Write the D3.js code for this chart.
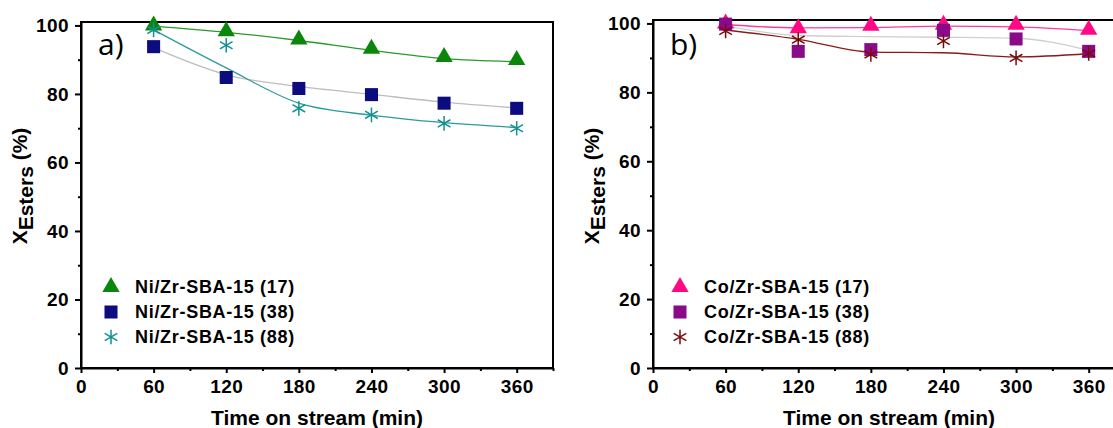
<!DOCTYPE html>
<html>
<head>
<meta charset="utf-8">
<script src="https://cdn.jsdelivr.net/npm/d3@7"></script>
<style>
  body { margin: 0; background: #fff; }
  svg { display: block; }
  .tick-label { font-family: "Liberation Sans", Arial, sans-serif; font-weight: bold; font-size: 19px; letter-spacing: 0.4px; }
</style>
</head>
<body>
<div id="chart"></div>
<script>
// sampling times (min)
const times = [60, 120, 180, 240, 300, 360];
const xTicks = [0, 60, 120, 180, 240, 300, 360];
const yTicks = [0, 20, 40, 60, 80, 100];

// panel a) measured points
const ni17 = [100, 98.3, 95.9, 93.2, 90.8, 89.9];
const ni38 = [93.8, 84.8, 81.6, 79.8, 77.3, 75.8];
const ni88 = [98.7, 94.2, 75.8, 73.9, 71.4, 70.0];
// panel a) trend lines
const ni17Line = [99.8, 98.0, 95.6, 92.7, 90.3, 89.4];
const ni38Line = [93.5, 85.6, 82.2, 79.9, 77.6, 75.9];
const ni88Line = [98.7, 87.6, 77.3, 73.8, 71.6, 70.2];

// panel b) measured points
const co17 = [100, 98.6, 99.3, 99.6, 99.6, 98.2];
const co38 = [99.8, 91.9, 92.4, 98.0, 95.5, 91.9];
const co88 = [97.8, 95.3, 91.0, 94.9, 90.0, 91.3];
// panel b) trend lines
const co17Line = [99.7, 98.7, 98.8, 99.2, 99.0, 97.9];
const co38Line = [99.3, 96.5, 96.2, 96.0, 95.7, 92.2];
const co88Line = [98.1, 95.4, 91.7, 91.5, 90.3, 91.2];

const labelsA = ["Ni/Zr-SBA-15 (17)", "Ni/Zr-SBA-15 (38)", "Ni/Zr-SBA-15 (88)"];
const labelsB = ["Co/Zr-SBA-15 (17)", "Co/Zr-SBA-15 (38)", "Co/Zr-SBA-15 (88)"];

const svg = d3.select("#chart").append("svg")
    .attr("width", 1113)
    .attr("height", 428);

function drawPanel(p) {
    const x = d3.scaleLinear().domain([0, 390]).range([p.left, p.left + 472]);
    const y = d3.scaleLinear().domain([0, 101]).range([368, p.top]);
    const g = svg.append("g");

    // frame
    g.append("rect")
        .attr("x", x(0)).attr("y", y(101))
        .attr("width", x(390) - x(0)).attr("height", y(0) - y(101))
        .attr("fill", "none").attr("stroke", "#000").attr("stroke-width", 2);

    // axes
    const xAxis = g.append("g").attr("transform", `translate(0, ${y(0)})`)
        .call(d3.axisBottom(x).tickValues(xTicks).tickSize(5).tickSizeOuter(0).tickPadding(7));
    g.append("g").attr("transform", `translate(0, ${y(0)})`)
        .call(d3.axisBottom(x).tickValues([30, 90, 150, 210, 270, 330, 390]).tickSize(3).tickFormat(""))
        .call(a => a.select(".domain").remove());
    const yAxis = g.append("g").attr("transform", `translate(${x(0)}, 0)`)
        .call(d3.axisLeft(y).tickValues(yTicks).tickSize(6).tickSizeOuter(0).tickPadding(6));
    g.append("g").attr("transform", `translate(${x(0)}, 0)`)
        .call(d3.axisLeft(y).tickValues([10, 30, 50, 70, 90]).tickSize(3).tickFormat(""))
        .call(a => a.select(".domain").remove());
    [xAxis, yAxis].forEach(a => {
        a.select(".domain").attr("stroke-width", 2);
        a.selectAll(".tick text").attr("class", "tick-label").attr("fill", "#000");
    });
    g.selectAll(".tick line").attr("stroke-width", 2);

    // axis titles
    g.append("text")
        .attr("x", (x(0) + x(390)) / 2).attr("y", 425)
        .attr("text-anchor", "middle")
        .attr("font-family", "Liberation Sans, Arial, sans-serif")
        .attr("font-weight", "bold").attr("font-size", 21)
        .text("Time on stream (min)");
    const yt = g.append("text")
        .attr("transform", `translate(${p.left - 54}, 186) rotate(-90)`)
        .attr("text-anchor", "middle")
        .attr("font-family", "Liberation Sans, Arial, sans-serif")
        .attr("font-weight", "bold")
        .attr("font-size", 21);
    yt.append("tspan").text("X");
    yt.append("tspan").attr("dy", 6).text("Esters");
    yt.append("tspan").attr("dy", -6).text(" (%)");

    // panel letter
    g.append("text")
        .attr("x", x(0) + 17).attr("y", 55)
        .attr("font-family", "Open Sans, sans-serif")
        .attr("font-size", 30)
        .text(p.letter);

    const line = d3.line().x((d, i) => x(times[i])).y(d => y(d)).curve(d3.curveMonotoneX);

    p.series.forEach(s => {
        g.append("path")
            .attr("d", line(s.line))
            .attr("fill", "none")
            .attr("stroke", s.lineColor)
            .attr("stroke-width", 1.3);
    });

    const drawSymbol = (sel, s) => {
        if (s.shape === "star") {
            sel.attr("d", d3.symbol(d3.symbolAsterisk, 150)())
                .attr("fill", "none").attr("stroke", s.color).attr("stroke-width", 1.5);
        } else if (s.shape === "triangle") {
            sel.attr("d", d3.symbol(d3.symbolTriangle, 130)()).attr("fill", s.color);
        } else {
            sel.attr("d", d3.symbol(d3.symbolSquare, 170)()).attr("fill", s.color);
        }
    };

    p.series.forEach(s => {
        g.selectAll(null).data(s.values).join("path")
            .attr("transform", (d, i) => `translate(${x(times[i])}, ${y(d)})`)
            .call(drawSymbol, s);
    });

    // legend
    p.series.forEach((s, i) => {
        const ly = 287 + i * 25;
        g.append("path")
            .attr("transform", `translate(${p.legendX}, ${ly})`)
            .call(drawSymbol, s);
        g.append("text")
            .attr("x", p.legendX + 24).attr("y", ly + 6)
            .attr("font-family", "Liberation Sans, Arial, sans-serif")
            .attr("font-weight", "bold").attr("font-size", 18)
            .attr("letter-spacing", 0.7)
            .text(p.labels[i]);
    });
}

drawPanel({
    left: 81, top: 22, letter: "a)", legendX: 111, labels: labelsA,
    series: [
        { values: ni17, line: ni17Line, color: "#0a870a", lineColor: "#2a9a2a", shape: "triangle" },
        { values: ni38, line: ni38Line, color: "#0c0c80", lineColor: "#bdbdbd", shape: "square" },
        { values: ni88, line: ni88Line, color: "#139090", lineColor: "#2a9c9c", shape: "star" }
    ]
});

drawPanel({
    left: 653, top: 20, letter: "b)", legendX: 680, labels: labelsB,
    series: [
        { values: co17, line: co17Line, color: "#ff0a84", lineColor: "#ff3a9a", shape: "triangle" },
        { values: co38, line: co38Line, color: "#8a0a8a", lineColor: "#cfcfcf", shape: "square" },
        { values: co88, line: co88Line, color: "#7a0a0a", lineColor: "#8a1a1a", shape: "star" }
    ]
});
</script>
</body>
</html>
